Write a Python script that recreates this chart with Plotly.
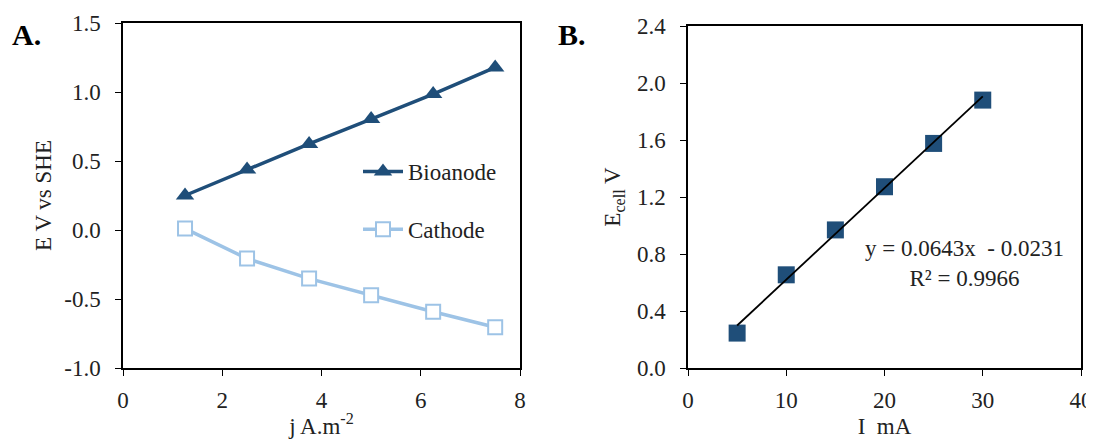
import plotly.graph_objects as go
from plotly.subplots import make_subplots

# panel A
j_vals = [1.25, 2.5, 3.75, 5.0, 6.25, 7.5]
bioanode = [0.25, 0.438, 0.624, 0.804, 0.985, 1.178]
cathode = [0.01, -0.207, -0.352, -0.472, -0.592, -0.705]
a_yticks = [-1.0, -0.5, 0.0, 0.5, 1.0, 1.5]

# panel B
i_vals = [5, 10, 15, 20, 25, 30]
e_cell = [0.245, 0.654, 0.969, 1.272, 1.576, 1.88]
b_yticks = [0.0, 0.4, 0.8, 1.2, 1.6, 2.0, 2.4]
slope, intercept, r2 = 0.0643, -0.0231, 0.9966

dark = '#1F4E79'
light = '#9DC3E6'
font = 'Liberation Serif'
txt = '#222'
# page body has an 8px margin, so keep the figure inside the window
W, H = 1086, 431


def px(x):  # window pixel -> paper x
    return (x - 8) / W


def py(y):
    return 1 - (y - 8) / H


fig = make_subplots(rows=1, cols=2)

fig.add_trace(go.Scatter(x=j_vals, y=bioanode, name='Bioanode', mode='lines+markers',
                         line=dict(color=dark, width=3.5),
                         marker=dict(symbol='triangle-up', size=16, color=dark),
                         legendgroup='a'), row=1, col=1)
fig.add_trace(go.Scatter(x=j_vals, y=cathode, name='Cathode', mode='lines+markers',
                         line=dict(color=light, width=3.5),
                         marker=dict(symbol='square', size=14, color='white',
                                     line=dict(color=light, width=2)),
                         legendgroup='b'), row=1, col=1)

fit_x = [i_vals[0], i_vals[-1]]
fit_y = [slope * x + intercept for x in fit_x]
fig.add_trace(go.Scatter(x=i_vals, y=e_cell, mode='markers', showlegend=False,
                         marker=dict(symbol='square', size=17, color=dark)), row=1, col=2)
fig.add_trace(go.Scatter(x=fit_x, y=fit_y, mode='lines', showlegend=False,
                         line=dict(color='black', width=1.8)), row=1, col=2)

axis_style = dict(showline=True, linecolor='black', linewidth=1.5, mirror=True,
                  ticks='outside', ticklen=6, tickcolor='black', showgrid=False,
                  zeroline=False, automargin=False,
                  tickfont=dict(family=font, size=23, color=txt))
title_font = dict(family=font, size=23, color=txt)

fig.update_xaxes(axis_style, ticklabelstandoff=5)
fig.update_yaxes(axis_style, ticklabelstandoff=10)

fig.update_xaxes(domain=[px(123), px(520)], range=[0, 8], dtick=2,
                 title=dict(text='j A.m<sup>-2</sup>', standoff=8, font=title_font), row=1, col=1)
fig.update_yaxes(domain=[py(368), py(23)], range=[-1.0, 1.5],
                 tickvals=a_yticks, ticktext=[f'{v:.1f}' for v in a_yticks],
                 title=dict(text='E V vs SHE', standoff=6, font=title_font), row=1, col=1)
fig.update_xaxes(domain=[px(688), px(1081)], range=[0, 40], dtick=10,
                 title=dict(text='I  mA', standoff=8, font=title_font), row=1, col=2)
fig.update_yaxes(domain=[py(368), py(26)], range=[0, 2.4],
                 tickvals=b_yticks, ticktext=[f'{v:.1f}' for v in b_yticks],
                 title=dict(text='E<sub>cell</sub> V', standoff=10, font=title_font), row=1, col=2)

fig.add_annotation(x=px(10), y=py(34), xref='paper', yref='paper', text='<b>A.</b>',
                   showarrow=False, xanchor='left', yanchor='middle',
                   font=dict(family=font, size=30, color='black'))
fig.add_annotation(x=px(556), y=py(35), xref='paper', yref='paper', text='<b>B.</b>',
                   showarrow=False, xanchor='left', yanchor='middle',
                   font=dict(family=font, size=30, color='black'))
fig.add_annotation(x=28.1, y=0.73, xref='x2', yref='y2',
                   text=f'y = {slope}x  - {abs(intercept)}<br>R² = {r2}',
                   showarrow=False, align='center', xanchor='center', yanchor='middle',
                   font=dict(family=font, size=23, color=txt))

fig.update_layout(
    width=W, height=H,
    margin=dict(l=0, r=0, t=0, b=0),
    paper_bgcolor='white', plot_bgcolor='white',
    legend=dict(x=px(358), y=py(150), xanchor='left', yanchor='top',
                font=dict(family=font, size=23, color=txt),
                tracegroupgap=25, bgcolor='rgba(0,0,0,0)', itemwidth=40),
    showlegend=True,
)

fig.write_html("out.html")
